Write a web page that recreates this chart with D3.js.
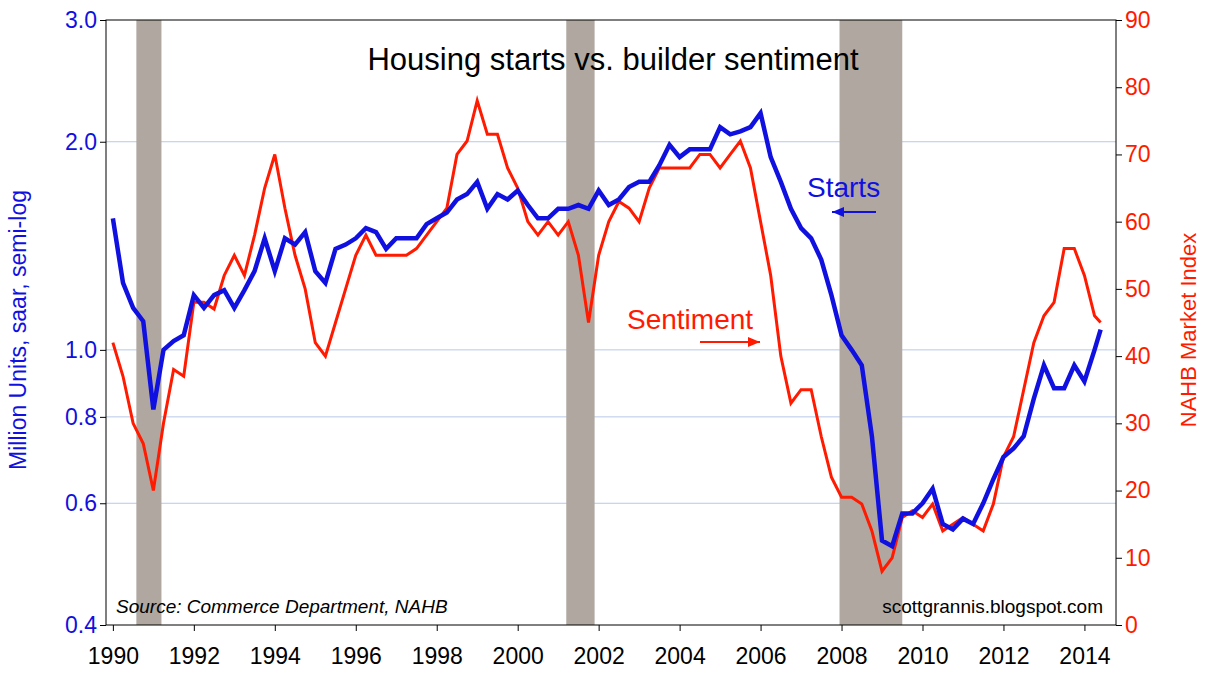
<!DOCTYPE html>
<html><head><meta charset="utf-8">
<script src="https://cdn.jsdelivr.net/npm/d3@7"></script>
<style>body{margin:0;background:#fff;font-family:"Liberation Sans",Arial,sans-serif}</style>
</head><body><svg id="chart" width="1214" height="686"></svg>
<script>
const quarters = [];
for (let y = 1990; y <= 2014.25; y += 0.25) quarters.push(y);
quarters.push(2014.4);

const starts = [1.55,1.25,1.15,1.1,0.82,1.0,1.03,1.05,1.2,1.15,1.2,1.22,1.15,1.22,1.3,1.45,1.3,1.45,1.42,1.48,
1.3,1.25,1.4,1.42,1.45,1.5,1.48,1.4,1.45,1.45,1.45,1.52,1.55,1.58,1.65,1.68,1.75,1.6,1.68,1.65,
1.7,1.62,1.55,1.55,1.6,1.6,1.62,1.6,1.7,1.62,1.65,1.72,1.75,1.75,1.85,1.98,1.9,1.95,1.95,1.95,
2.1,2.05,2.07,2.1,2.2,1.9,1.75,1.6,1.5,1.45,1.35,1.2,1.05,1.0,0.95,0.75,0.53,0.52,0.58,0.58,
0.6,0.63,0.56,0.55,0.57,0.56,0.6,0.65,0.7,0.72,0.75,0.85,0.95,0.88,0.88,0.95,0.9,1.0,1.07];

const sentiment = [42,37,30,27,20,30,38,37,48,48,47,52,55,52,58,65,70,62,55,50,
42,40,45,50,55,58,55,55,55,55,56,58,60,62,70,72,78,73,73,68,
65,60,58,60,58,60,55,45,55,60,63,62,60,65,68,68,68,68,70,70,
68,70,72,68,60,52,40,33,35,35,28,22,19,19,18,14,8,10,16,17,
16,18,14,15,16,15,14,18,25,28,35,42,46,48,56,56,52,46,45];

const recessions = [[1990.58,1991.2],[2001.2,2001.9],[2007.95,2009.5]];
const leftTicks = [0.4,0.6,0.8,1.0,2.0,3.0];
const rightTicks = [0,10,20,30,40,50,60,70,80,90];
const yearTicks = d3.range(1990, 2015, 2);

const svg = d3.select("#chart");
const L = 106, R = 1116, T = 20, B = 625;
const x = d3.scaleLinear().domain([1989.83, 2014.78]).range([L, R]);
const yL = d3.scaleLog().domain([0.4, 3.0]).range([B, T]);
const yR = d3.scaleLinear().domain([0, 90]).range([B, T]);

// grid
svg.append("g").selectAll("line").data(leftTicks.slice(1,5)).join("line")
  .attr("x1", L).attr("x2", R).attr("y1", d => yL(d)).attr("y2", d => yL(d))
  .attr("stroke", "#b8c8e8").attr("stroke-width", 1);

// recessions
svg.append("g").selectAll("rect").data(recessions).join("rect")
  .attr("x", d => x(d[0])).attr("width", d => x(d[1]) - x(d[0]))
  .attr("y", T).attr("height", B - T).attr("fill", "#b0a8a0");

// frame
svg.append("rect").attr("x", L).attr("y", T).attr("width", R - L).attr("height", B - T)
  .attr("fill", "none").attr("stroke", "#000").attr("stroke-width", 1);

const lineS = d3.line().x((d, i) => x(quarters[i])).y(d => yR(d));
const lineH = d3.line().x((d, i) => x(quarters[i])).y(d => yL(d));
svg.append("path").attr("d", lineS(sentiment)).attr("fill", "none").attr("stroke", "#ff1a00").attr("stroke-width", 3);
svg.append("path").attr("d", lineH(starts)).attr("fill", "none").attr("stroke", "#1010e0").attr("stroke-width", 4.5);

// axes
const ax = svg.append("g").attr("transform", `translate(0,${B})`)
  .call(d3.axisBottom(x).tickValues(yearTicks).tickFormat(d3.format("d")).tickSize(6));
ax.select(".domain").remove();
ax.selectAll("text").attr("font-size", 23).attr("dy", "1.3em").attr("fill", "#000");

const al = svg.append("g").attr("transform", `translate(${L},0)`)
  .call(d3.axisLeft(yL).tickValues(leftTicks).tickFormat(d3.format(".1f")).tickSize(6));
al.select(".domain").remove();
al.selectAll("text").attr("font-size", 23).attr("fill", "#1010e0");

const ar = svg.append("g").attr("transform", `translate(${R},0)`)
  .call(d3.axisRight(yR).tickValues(rightTicks).tickSize(6));
ar.select(".domain").remove();
ar.selectAll("text").attr("font-size", 23).attr("fill", "#ff1a00");

svg.append("text").attr("transform", "translate(26,330) rotate(-90)").attr("text-anchor", "middle")
  .attr("font-size", 23).attr("fill", "#1010e0").text("Million Units, saar, semi-log");
svg.append("text").attr("transform", "translate(1196,330) rotate(-90)").attr("text-anchor", "middle")
  .attr("font-size", 22).attr("fill", "#ff1a00").text("NAHB Market Index");

svg.append("text").attr("x", 613).attr("y", 70).attr("text-anchor", "middle")
  .attr("font-size", 31).text("Housing starts vs. builder sentiment");
svg.append("text").attr("x", 116).attr("y", 613).attr("font-size", 19).attr("font-style", "italic")
  .text("Source:  Commerce Department, NAHB");
svg.append("text").attr("x", 1103).attr("y", 613).attr("text-anchor", "end").attr("font-size", 19)
  .text("scottgrannis.blogspot.com");

svg.append("text").attr("x", 807).attr("y", 197).attr("font-size", 28).attr("fill", "#1010e0").text("Starts");
svg.append("text").attr("x", 627).attr("y", 329).attr("font-size", 28).attr("fill", "#ff1a00").text("Sentiment");
function arrow(x1, x2, yy, c) {
  svg.append("line").attr("x1", x1).attr("x2", x2).attr("y1", yy).attr("y2", yy).attr("stroke", c).attr("stroke-width", 2);
  const d = x2 > x1 ? -1 : 1;
  svg.append("path").attr("d", `M${x2},${yy}L${x2 + d * 12},${yy - 5}L${x2 + d * 12},${yy + 5}Z`).attr("fill", c);
}
arrow(876, 832, 212, "#1010e0");
arrow(700, 760, 342, "#ff1a00");
</script></body></html>
